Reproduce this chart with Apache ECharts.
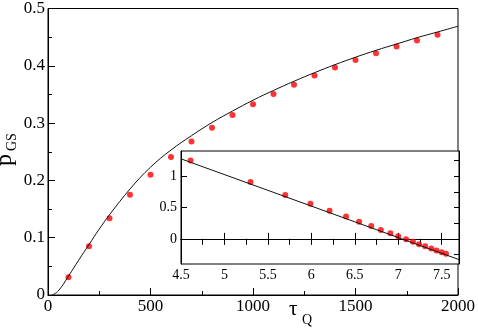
<!DOCTYPE html>
<html lang="en">
<head>
    <meta charset="UTF-8">
    <title>p_GS vs tau_Q</title>
    <script src="https://cdn.jsdelivr.net/npm/echarts@6/dist/echarts.min.js"></script>
    <style>html, body { margin: 0; padding: 0; background: #fff; }</style>
</head>
<body>
    <div id="main" style="width: 478px;height: 330px;"></div>

    <script type="text/javascript">
        // main plot: red dots
        var tauDots = [100, 200, 300, 400, 500, 600, 700, 800, 900, 1000,
            1100, 1200, 1300, 1400, 1500, 1600, 1700, 1800, 1900];
        var pDots = [0.031, 0.085, 0.134, 0.175, 0.210, 0.241, 0.268, 0.292, 0.314, 0.333,
            0.351, 0.367, 0.383, 0.397, 0.410, 0.422, 0.4335, 0.444, 0.454];

        // main plot: black curve
        var tauCurve = [20, 50, 100, 150, 200, 250, 300, 400, 500, 600, 700, 800, 900, 1000,
            1100, 1200, 1300, 1400, 1500, 1600, 1700, 1800, 1900, 2000];
        var pCurve = [0, 0.007, 0.033, 0.061, 0.088, 0.115, 0.140, 0.185, 0.223, 0.253, 0.278, 0.301, 0.321, 0.340,
            0.357, 0.373, 0.388, 0.402, 0.415, 0.427, 0.438, 0.449, 0.459, 0.469];

        // inset: dots
        var insetX = [4.61, 5.30, 5.70, 5.99, 6.21, 6.40, 6.55, 6.69, 6.80, 6.91,
            7.00, 7.09, 7.17, 7.24, 7.31, 7.38, 7.44, 7.50, 7.55];
        var insetY = [1.248, 0.905, 0.700, 0.558, 0.447, 0.357, 0.273, 0.205, 0.142, 0.088,
            0.041, -0.006, -0.047, -0.085, -0.117, -0.153, -0.185, -0.212, -0.237];

        // inset: straight line
        var lineX = [4.5, 7.7];
        var lineY = [1.275, -0.33];

        // inset tick positions
        var insetXMinor = [4.75, 5.25, 5.75, 6.25, 6.75, 7.25];
        var insetYMajor = [0, 0.5, 1];
        var insetYMinor = [-0.25, 0.25, 0.75, 1.25];
        var insetYAll = [-0.25, 0, 0.25, 0.5, 0.75, 1, 1.25];

        function zip(a, b) {
            var out = [];
            for (var i = 0; i < a.length; i++) out.push([a[i], b[i]]);
            return out;
        }
        function plain(v) { return String(v); }

        var serif = 'Liberation Serif';
        var black = '#000';
        var lineSty = { color: black, width: 1 };

        var myChart = echarts.init(document.getElementById('main'));
        var option = {
            animation: false,
            backgroundColor: '#fff',
            grid: [
                { left: 48, right: 19, top: 7, bottom: 35, show: true, borderColor: black, borderWidth: 1 },
                { left: 181, right: 19, top: 151, height: 113, show: true, borderColor: black, borderWidth: 1, backgroundColor: '#fff' }
            ],
            xAxis: [
                {
                    gridIndex: 0, type: 'value', min: 0, max: 2000, interval: 500,
                    axisLine: { lineStyle: lineSty },
                    axisTick: { inside: true, length: 7, lineStyle: lineSty },
                    minorTick: { show: true, splitNumber: 2, length: 4, lineStyle: lineSty },
                    axisLabel: { color: black, fontFamily: serif, fontSize: 17, margin: 3, formatter: plain },
                    splitLine: { show: false }
                },
                {
                    gridIndex: 1, type: 'value', min: 4.5, max: 7.7, interval: 0.5,
                    axisLine: { lineStyle: lineSty },
                    axisTick: { inside: true, length: 6, lineStyle: lineSty },
                    axisLabel: { color: black, fontFamily: serif, fontSize: 14, margin: 4, showMaxLabel: false, formatter: plain },
                    splitLine: { show: false }
                },
                {
                    gridIndex: 1, type: 'value', min: 4.5, max: 7.7,
                    axisLine: { show: false },
                    axisTick: { inside: true, length: 3, lineStyle: lineSty, customValues: insetXMinor },
                    axisLabel: { show: false },
                    splitLine: { show: false }
                },
                {
                    gridIndex: 1, type: 'value', position: 'top', min: 4.5, max: 7.7, interval: 0.25,
                    axisLine: { lineStyle: lineSty },
                    axisTick: { inside: true, length: 6, lineStyle: lineSty },
                    axisLabel: { show: false },
                    splitLine: { show: false }
                }
            ],
            yAxis: [
                {
                    gridIndex: 0, type: 'value', min: 0, max: 0.5, interval: 0.1,
                    axisLine: { show: true, lineStyle: lineSty },
                    axisTick: { show: true, inside: true, length: 7, lineStyle: lineSty },
                    minorTick: { show: true, splitNumber: 2, length: 4, lineStyle: lineSty },
                    axisLabel: { color: black, fontFamily: serif, fontSize: 17, margin: 3, formatter: plain },
                    splitLine: { show: false }
                },
                {
                    gridIndex: 1, type: 'value', min: -0.4, max: 1.4,
                    axisLine: { show: true, lineStyle: lineSty },
                    axisTick: { show: true, inside: true, length: 6, lineStyle: lineSty, customValues: insetYMajor },
                    axisLabel: { color: black, fontFamily: serif, fontSize: 14, margin: 4, customValues: insetYMajor, formatter: plain },
                    splitLine: { show: false }
                },
                {
                    gridIndex: 1, type: 'value', min: -0.4, max: 1.4,
                    axisLine: { show: false },
                    axisTick: { show: true, inside: true, length: 3, lineStyle: lineSty, customValues: insetYMinor },
                    axisLabel: { show: false },
                    splitLine: { show: false }
                },
                {
                    gridIndex: 1, type: 'value', position: 'right', min: -0.4, max: 1.4,
                    axisLine: { show: true, lineStyle: lineSty },
                    axisTick: { show: true, inside: true, length: 5, lineStyle: lineSty, customValues: insetYAll },
                    axisLabel: { show: false },
                    splitLine: { show: false }
                }
            ],
            series: [
                {
                    type: 'line', xAxisIndex: 0, yAxisIndex: 0,
                    data: zip(tauCurve, pCurve), smooth: 0.4, showSymbol: false,
                    lineStyle: { color: '#111', width: 1 }
                },
                {
                    type: 'scatter', xAxisIndex: 0, yAxisIndex: 0,
                    data: zip(tauDots, pDots), symbolSize: 6,
                    itemStyle: { color: '#ff0000' }
                },
                {
                    type: 'line', xAxisIndex: 1, yAxisIndex: 1,
                    data: zip(lineX, lineY), showSymbol: false,
                    lineStyle: { color: '#111', width: 1 }
                },
                {
                    type: 'scatter', xAxisIndex: 1, yAxisIndex: 1,
                    data: zip(insetX, insetY), symbolSize: 6,
                    itemStyle: { color: '#ff0000' }
                }
            ],
            graphic: [
                {
                    type: 'group', x: 0, y: 166, rotation: Math.PI / 2,
                    children: [
                        { type: 'text', x: 0, y: 5, style: { text: 'p', font: '24px ' + serif, fill: black, verticalAlign: 'middle' } },
                        { type: 'text', x: 15, y: 12, style: { text: 'GS', font: '14px ' + serif, fill: black, verticalAlign: 'middle' } }
                    ]
                },
                { type: 'text', x: 289, y: 309, style: { text: 'τ', font: '21px ' + serif, fill: black, verticalAlign: 'middle' } },
                { type: 'text', x: 302, y: 320, style: { text: 'Q', font: '14px ' + serif, fill: black, verticalAlign: 'middle' } }
            ]
        };
        myChart.setOption(option);
    </script>
</body>
</html>
